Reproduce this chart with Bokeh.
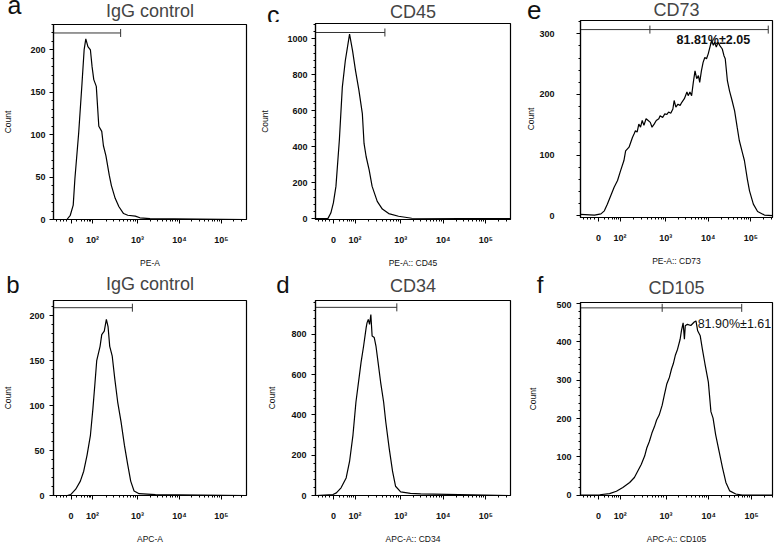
import numpy as np
from bokeh.plotting import figure
from bokeh.models import FixedTicker, SingleIntervalTicker, Label, Range1d
from bokeh.layouts import row, column
from bokeh.embed import file_html
from bokeh.resources import INLINE

# ---------------- data ----------------
# x: position on the biexponential display axis (decade units; 3 = 10^3), y: event count
a_x = [1.01, 1.32, 1.40, 1.47, 1.51, 1.60, 1.68, 1.73, 1.77, 1.82, 1.88, 1.92, 1.96, 2.02, 2.08,
       2.15, 2.19, 2.25, 2.33, 2.38, 2.47, 2.56, 2.67, 2.77, 2.95, 3.06, 3.30, 5.60]
a_y = [0, 0, 5, 17, 48, 102, 161, 200, 213, 204, 200, 180, 165, 157, 110,
       104, 87, 75, 52, 40, 25, 15, 7, 5, 4, 2, 1, 0]

b_x = [1.01, 1.33, 1.41, 1.53, 1.64, 1.72, 1.80, 1.88, 1.94, 1.99, 2.03, 2.11, 2.15, 2.21, 2.26,
       2.30, 2.34, 2.40, 2.46, 2.53, 2.61, 2.69, 2.77, 2.84, 2.92, 3.04, 3.43, 5.60]
b_y = [0, 0, 1, 7, 16, 27, 45, 67, 97, 126, 150, 166, 179, 183, 196,
       188, 166, 155, 130, 104, 82, 56, 34, 16, 5, 2, 1, 0]

c_x = [1.01, 1.29, 1.36, 1.42, 1.48, 1.56, 1.63, 1.70, 1.75, 1.80, 1.87, 1.94, 2.02, 2.10, 2.14,
       2.19, 2.26, 2.33, 2.45, 2.57, 2.72, 2.95, 3.26, 5.58]
c_y = [0, 0, 31, 87, 179, 436, 731, 878, 952, 1026, 934, 823, 713, 584, 418,
       344, 271, 179, 96, 53, 28, 13, 2, 0]

d_x = [1.02, 1.41, 1.49, 1.60, 1.72, 1.80, 1.88, 1.95, 2.03, 2.07, 2.13, 2.19, 2.21, 2.24, 2.27,
       2.30, 2.33, 2.38, 2.42, 2.47, 2.53, 2.60, 2.65, 2.73, 2.81, 2.88, 3.00, 3.23, 3.47, 5.56]
d_y = [0, 5, 13, 38, 87, 169, 300, 464, 595, 661, 742, 833, 857, 874, 849,
       898, 792, 784, 742, 661, 562, 464, 366, 235, 120, 46, 18, 11, 8, 0]

e_x = [1.00, 1.33, 1.48, 1.56, 1.63, 1.71, 1.79, 1.87, 1.94,
       2.02, 2.06, 2.14, 2.22, 2.26, 2.29, 2.33, 2.37, 2.41, 2.45,
       2.49, 2.54, 2.59, 2.64, 2.68, 2.73, 2.78, 2.84, 2.87, 2.93,
       2.98, 3.03, 3.07, 3.12, 3.17, 3.20, 3.24, 3.29, 3.34, 3.38,
       3.44, 3.50, 3.53, 3.57, 3.61, 3.65, 3.69, 3.73, 3.77, 3.80,
       3.84, 3.88, 3.92, 3.96, 4.00, 4.04, 4.08, 4.12, 4.15, 4.19,
       4.23, 4.27, 4.33, 4.37, 4.40, 4.45, 4.50, 4.56, 4.62, 4.68,
       4.73, 4.81, 4.85, 4.92, 4.97, 5.06, 5.16, 5.32, 5.51]
e_y = [2, 1, 3, 8, 19, 33, 47, 58, 74,
       91, 107, 113, 129, 135, 140, 138, 151, 146, 157,
       149, 160, 157, 154, 146, 151, 157, 160, 165, 162,
       168, 167, 171, 169, 176, 190, 179, 184, 182, 187,
       193, 204, 198, 204, 198, 220, 239, 226, 231, 220,
       239, 253, 261, 259, 267, 278, 289, 281, 286, 278,
       286, 281, 275, 264, 259, 223, 206, 190, 173, 146,
       124, 102, 91, 60, 41, 19, 7, 1, 0]

f_x = [1.00, 1.45, 1.68, 1.84, 1.99, 2.15, 2.26, 2.34, 2.42, 2.50, 2.55, 2.61, 2.67, 2.73, 2.78,
       2.84, 2.91, 2.96, 3.02, 3.08, 3.13, 3.17, 3.22, 3.27, 3.33, 3.36, 3.40, 3.43, 3.45, 3.50,
       3.58, 3.66, 3.70, 3.74, 3.80, 3.85, 3.91, 3.99, 4.05, 4.10, 4.16, 4.24, 4.32, 4.40, 4.49,
       4.63, 4.78, 5.48]
f_y = [0, 1, 4, 10, 20, 33, 46, 63, 80, 102, 123, 140, 162, 179, 196,
       209, 235, 261, 291, 308, 330, 343, 366, 381, 407, 429, 450, 407, 442, 446,
       443, 452, 455, 429, 416, 381, 343, 295, 218, 201, 158, 115, 72, 33, 11,
       3, 0, 0]

panel_keys = ["a", "b", "c", "d", "e", "f"]
panel_titles = ["IgG control", "IgG control", "CD45", "CD34", "CD73", "CD105"]
panel_xlabels = ["PE-A", "APC-A", "PE-A:: CD45", "APC-A:: CD34", "PE-A:: CD73", "APC-A:: CD105"]
gate_start = [1.0, 1.0, 1.0, 1.0, 1.0, 1.0]
gate_end = [2.60, 2.88, 2.63, 2.91, 5.41, 4.77]
gate_mid = [None, None, None, None, 2.63, 2.91]
gate_level = [220, 209, 1035, 934, 307, 489]
note_text = [None, None, None, None, "81.81%±2.05", "81.90%±1.61"]
note_x = [None, None, None, None, 4.12, 3.74]
note_y = [None, None, None, None, 290, 446]

x_tick_values = [1.42, 1.93, 3.0, 4.0, 5.0]
x_tick_labels = ["0", "10²", "10³", "10⁴", "10⁵"]

FONT = "Liberation Sans"
TITLE_SIZE = 18

minor_x = [1.08, 1.16, 1.24, 1.32, 1.56, 1.66, 1.74, 1.80, 1.85, 1.89]
minor_x += [1.93 + 1.07 * np.log10(k) for k in range(2, 10)]
minor_x += [n + np.log10(k) for n in (3, 4) for k in range(2, 10)]
minor_x += [5.30, 5.48]

# ---------------- layout geometry (pixels) ----------------
# ty = title baseline above the header's bottom edge; lyt = centre of the panel letter
geom = {
    "a": dict(w=257, h=247, bl=48, br=11, bb=49, xend=5.60, yr=(0, 230), yint=50, ys=4, yas=14,
              hh=23, ty=6.3, lso=32, lyt=9.0, lsize="25px"),
    "b": dict(w=257, h=247, bl=49, br=10, bb=49, xend=5.60, yr=(0, 217), yint=50, ys=5, yas=13,
              hh=29, ty=9.0, lso=34, lyt=15.4, lsize="24px"),
    "c": dict(w=266, h=248, bl=56, br=13, bb=50, xend=5.58, yr=(-5, 1085), yint=200, ys=4, yas=14,
              hh=22, ty=4.7, lso=36, lyt=8.3, lsize="25px"),
    "d": dict(w=266, h=247, bl=57, br=12, bb=49, xend=5.58, yr=(0, 968), yint=200, ys=5, yas=11,
              hh=29, ty=7.3, lso=26, lyt=15.4, lsize="24px"),
    "e": dict(w=255, h=251, bl=55, br=6, bb=53, xend=5.51, yr=(-3, 322), yint=100, ys=22, yas=0,
              hh=19, ty=3.0, lso=39, lyt=9.5, lsize="26px"),
    "f": dict(w=255, h=245, bl=56, br=6, bb=49, xend=5.49, yr=(-1, 503), yint=100, ys=5, yas=15,
              hh=31, ty=7.0, lso=37, lyt=16.9, lsize="24px"),
}

series = {"a": (a_x, a_y), "b": (b_x, b_y), "c": (c_x, c_y),
          "d": (d_x, d_y), "e": (e_x, e_y), "f": (f_x, f_y)}


def make_header(i):
    key = panel_keys[i]
    g = geom[key]
    fw = g["w"] - g["bl"] - g["br"]
    h = figure(width=g["w"], height=g["hh"], x_range=Range1d(0, fw),
               y_range=Range1d(0, g["hh"]), x_axis_type=None,
               output_backend="svg", toolbar_location=None,
               min_border_left=g["bl"], min_border_right=g["br"],
               min_border_top=0, min_border_bottom=0)
    h.title.visible = False
    h.outline_line_color = None
    h.xgrid.visible = False
    h.ygrid.visible = False
    h.background_fill_color = "white"
    h.border_fill_color = "white"
    # panel letter: a tick label in the header's left margin
    ya = h.yaxis[0]
    ya.ticker = FixedTicker(ticks=[g["lyt"]], minor_ticks=[])
    ya.major_label_overrides = {g["lyt"]: key}
    ya.axis_line_color = None
    ya.major_tick_line_color = None
    ya.minor_tick_line_color = None
    ya.major_tick_out = 0
    ya.minor_tick_out = 0
    ya.major_label_standoff = int(g["lso"])
    ya.major_label_text_font = FONT
    ya.major_label_text_font_size = g["lsize"]
    ya.major_label_text_color = "#111111"
    # panel name (centred vertically on its text box)
    h.add_layout(Label(x=fw / 2, y=g["ty"] + 0.35 * TITLE_SIZE, text=panel_titles[i],
                       text_font=FONT, text_font_size=f"{TITLE_SIZE}px",
                       text_color="#454545", text_align="center", text_baseline="middle"))
    return h


def make_panel(i):
    key = panel_keys[i]
    g = geom[key]
    x0, x1 = 1.0, g["xend"]
    y0, y1 = g["yr"]
    p = figure(width=g["w"], height=g["h"],
               x_range=Range1d(x0, x1), y_range=Range1d(y0, y1),
               output_backend="svg", toolbar_location=None,
               min_border_left=g["bl"], min_border_right=g["br"],
               min_border_top=1, min_border_bottom=g["bb"])
    p.title.visible = False
    p.background_fill_color = "white"
    p.border_fill_color = "white"
    p.outline_line_color = "black"
    p.outline_line_width = 1.2
    p.xgrid.visible = False
    p.ygrid.visible = False

    p.xaxis.ticker = FixedTicker(ticks=x_tick_values, minor_ticks=minor_x)
    p.xaxis.major_label_overrides = {v: t for v, t in zip(x_tick_values, x_tick_labels)}
    p.yaxis.ticker = SingleIntervalTicker(interval=g["yint"], num_minor_ticks=5)
    for ax in (p.xaxis[0], p.yaxis[0]):
        ax.axis_line_color = "black"
        ax.axis_line_width = 1.2
        ax.major_tick_out = 4
        ax.major_tick_in = 0
        ax.minor_tick_out = 2
        ax.minor_tick_in = 0
        ax.major_tick_line_color = "black"
        ax.minor_tick_line_color = "black"
        ax.major_label_text_font = FONT
        ax.major_label_text_font_size = "9px"
        ax.major_label_text_font_style = "bold"
        ax.major_label_text_color = "#111111"
        ax.axis_label_text_font = FONT
        ax.axis_label_text_font_size = "8.5px"
        ax.axis_label_text_font_style = "normal"
        ax.axis_label_text_color = "#111111"
    p.xaxis.major_label_standoff = 11
    p.xaxis.axis_label_standoff = 10
    p.yaxis.major_label_standoff = int(g["ys"])
    p.yaxis.axis_label_standoff = int(g["yas"])
    p.xaxis.axis_label = panel_xlabels[i]
    p.yaxis.axis_label = "Count"

    xs, ys = series[key]
    p.line(xs, ys, line_color="black", line_width=1.2)

    # gate bar
    p.line([gate_start[i], gate_end[i]], [gate_level[i]] * 2, line_color="#333333", line_width=1)
    tx = [gate_start[i], gate_end[i]] + ([gate_mid[i]] if gate_mid[i] is not None else [])
    p.scatter(tx, [gate_level[i]] * len(tx), marker="dash", angle=np.pi / 2, size=8,
              line_color="#333333", line_width=1)

    if note_text[i] is not None:
        bold = key == "e"
        p.add_layout(Label(x=note_x[i], y=note_y[i], text=note_text[i], text_font=FONT,
                           text_font_size="12.5px", text_color="#111111",
                           text_font_style="bold" if bold else "normal",
                           text_align="center" if bold else "left",
                           text_baseline="middle"))
    return p


cols = []
for top, bottom in ((0, 1), (2, 3), (4, 5)):
    cols.append(column(make_header(top), make_panel(top), make_header(bottom), make_panel(bottom)))
layout = row(*cols)

open("out.html", "w").write(file_html(layout, INLINE))
